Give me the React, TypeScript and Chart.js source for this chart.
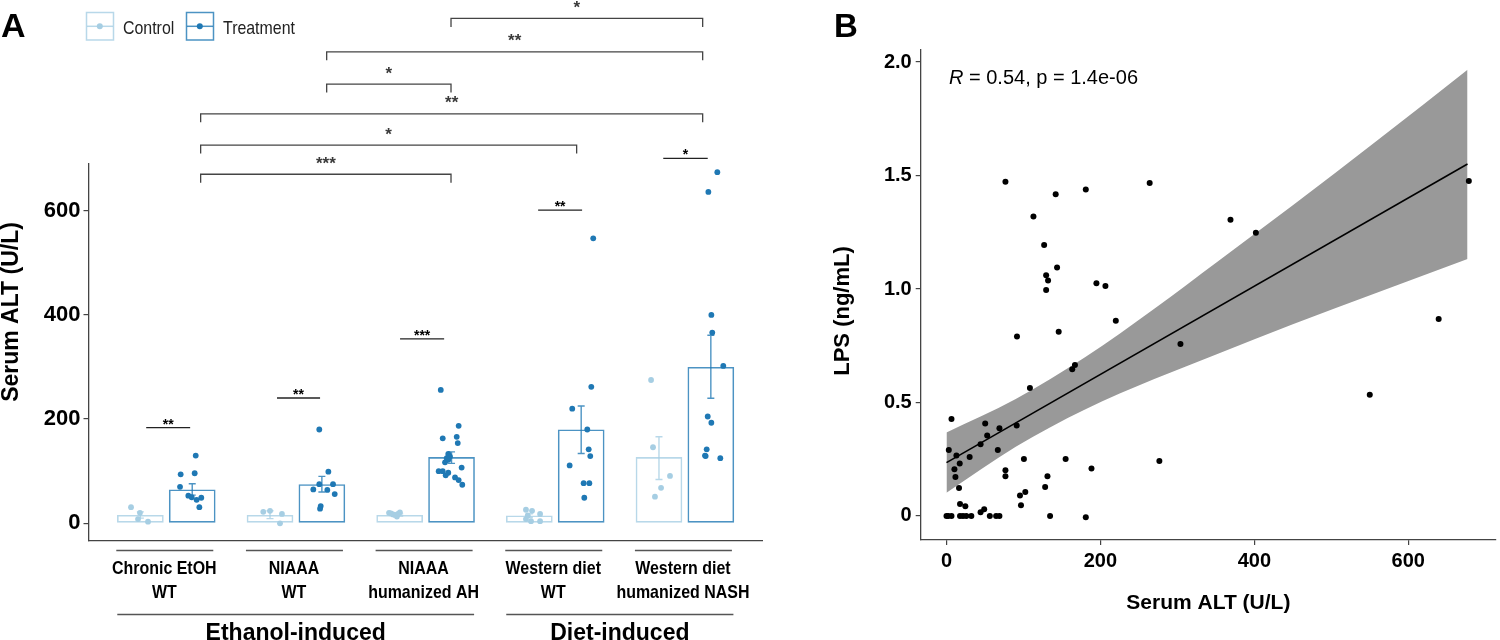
import React, { useEffect, useRef } from 'react';
import { Chart, registerables } from 'chart.js';

Chart.register(...registerables);

// ---------------- Panel A data ----------------
const categories: string[][] = [
  ['Chronic EtOH', 'WT'],
  ['NIAAA', 'WT'],
  ['NIAAA', 'humanized AH'],
  ['Western diet', 'WT'],
  ['Western diet', 'humanized NASH'],
];
const groupPositions = [1, 2, 3, 4, 5];
const inductionGroups = [
  { label: 'Ethanol-induced', from: 0, to: 2 },
  { label: 'Diet-induced', from: 3, to: 4 },
];
const controlMeans = [16, 16, 16, 15, 127];
const treatmentMeans = [65, 75, 127, 180, 300];
const controlErrLow = [10, 9, 14, 11, 84];
const controlErrHigh = [22, 24, 18, 18, 166];
const treatmentErrLow = [54, 60, 115, 134, 240];
const treatmentErrHigh = [76, 90, 137, 225, 361];

// individual animals: [jittered x (group units), Serum ALT]
const controlPoints: number[][] = [
  [0.728, 31], [0.797, 20], [0.782, 8], [0.859, 3],
  [1.748, 22], [1.8, 24], [1.892, 18], [1.877, 0],
  [2.718, 20], [2.749, 17], [2.779, 13], [2.802, 21], [2.764, 16], [2.733, 19], [2.787, 18],
  [3.774, 26], [3.821, 24], [3.883, 18], [3.788, 15], [3.774, 8], [3.813, 4], [3.883, 4],
  [4.739, 275], [4.754, 146], [4.885, 91], [4.816, 68], [4.769, 51],
];
const treatmentPoints: number[][] = [
  [1.227, 130], [1.111, 94], [1.219, 96], [1.106, 70], [1.17, 53], [1.196, 50], [1.234, 45], [1.27, 49], [1.255, 31],
  [2.18, 180], [2.25, 99], [2.18, 75], [2.286, 75], [2.134, 65], [2.242, 64], [2.299, 56], [2.191, 33], [2.186, 28],
  [3.117, 256], [3.255, 187], [3.132, 163], [3.24, 166], [3.248, 154], [3.175, 133], [3.188, 128], [3.163, 125],
  [3.15, 117], [3.175, 122], [3.278, 107], [3.101, 100], [3.132, 100], [3.175, 97], [3.155, 92], [3.227, 88],
  [3.255, 83], [3.283, 74],
  [4.293, 547], [4.278, 262], [4.131, 220], [4.247, 180], [4.258, 142], [4.27, 129], [4.111, 111], [4.219, 77],
  [4.263, 77], [4.224, 49],
  [5.25, 674], [5.181, 636], [5.204, 400], [5.211, 366], [5.296, 302], [5.176, 205], [5.204, 193], [5.168, 142],
  [5.155, 130], [5.16, 129], [5.273, 125],
];
const yTicksA = [0, 200, 400, 600];

// significance annotations
const bracketAnchors = [1.265, 2.237, 3.196, 4.165, 5.137];
const comparisons = [
  { from: 2, to: 4, y: 969, label: '*' },
  { from: 1, to: 4, y: 905, label: '**' },
  { from: 1, to: 2, y: 843, label: '*' },
  { from: 0, to: 4, y: 786, label: '**' },
  { from: 0, to: 3, y: 726, label: '*' },
  { from: 0, to: 2, y: 670, label: '***' },
];
const withinGroup = [
  { x1: 0.845, x2: 1.184, y: 183.5, label: '**' },
  { x1: 1.854, x2: 2.186, y: 240.5, label: '**' },
  { x1: 2.803, x2: 3.143, y: 354, label: '***' },
  { x1: 3.868, x2: 4.207, y: 601, label: '**' },
  { x1: 4.833, x2: 5.176, y: 700.6, label: '*' },
];

// ---------------- Panel B data ----------------
const serumAlt = [
  76.6, 141.9, 181, 264, 113, 126.9, 143.7, 129.5, 132, 129.5, 194.8, 206.5, 220, 91.6, 145.8, 304, 163.4, 166.9,
  108.4, 6.5, 50.3, 91.2, 68.8, 52.9, 44.3, 3, 66.7, 12.9, 30.1, 100.6, 154.8, 276.6, 17.2, 10.3, 76.6, 188.4,
  11.6, 76.6, 131.2, 128.2, 16.3, 102.4, 95.5, 96.8, 17.6, 24.5, 49, 44.3,
  0, 2.2, 6.5, 17.6, 21.5, 25.8, 32.3, 56.3, 64.5, 68.8, 134.6, 181,
  369, 402, 678.7, 639.5, 550,
];
const lps = [
  1.473, 1.417, 1.438, 1.467, 1.319, 1.194, 1.095, 1.06, 1.037, 0.996, 1.025, 1.013, 0.86, 0.791, 0.812, 0.758, 0.646, 0.665,
  0.564, 0.427, 0.407, 0.398, 0.386, 0.354, 0.316, 0.291, 0.291, 0.266, 0.26, 0.251, 0.251, 0.242, 0.231, 0.206, 0.201, 0.209,
  0.172, 0.175, 0.175, 0.128, 0.123, 0.106, 0.09, 0.047, 0.053, 0.043, 0.029, 0.016,
  0, 0, 0, 0, 0, 0, 0, 0, 0, 0, 0, -0.006,
  1.305, 1.248, 1.476, 0.868, 0.534,
];
const fitX = [0, 677];
const fitY = [0.235, 1.551];
const bandX = [0, 90, 180, 270, 352, 450, 560, 677];
const bandUpper = [0.368, 0.515, 0.699, 0.913, 1.12, 1.369, 1.655, 1.966];
const bandLower = [0.102, 0.305, 0.469, 0.603, 0.714, 0.845, 0.985, 1.132];
const xTicksB = [0, 200, 400, 600];
const yTicksB = [0, 0.5, 1, 1.5, 2];
const yTickLabelsB = ['0', '0.5', '1.0', '1.5', '2.0'];

// ---------------- styles ----------------
const FONT = '"Liberation Sans", Arial, Helvetica, sans-serif';
const CTRL_PT = '#a6cee3';
const CTRL_LINE = 'rgba(166,206,227,0.8)';
const TRT_PT = '#1f78b4';
const TRT_LINE = 'rgba(31,120,180,0.8)';
const AXIS = '#444';

function drawText(
  ctx: CanvasRenderingContext2D, s: string, x: number, y: number, font: string,
  align: CanvasTextAlign = 'center', sx = 1, color = '#000', baseline: CanvasTextBaseline = 'alphabetic', rot = 0,
) {
  ctx.save();
  ctx.font = font;
  ctx.fillStyle = color;
  ctx.textAlign = align;
  ctx.textBaseline = baseline;
  ctx.translate(x, y);
  if (rot) ctx.rotate(rot);
  ctx.scale(sx, 1);
  ctx.fillText(s, 0, 0);
  ctx.restore();
}

const panelAPlugin = {
  id: 'panelAExtras',
  afterDatasetDraw(chart: any, args: any) {
    if (args.index !== 0) return;
    const ctx: CanvasRenderingContext2D = chart.ctx;
    const ys = chart.scales.y;
    const sets = [
      { meta: chart.getDatasetMeta(0), lo: controlErrLow, hi: controlErrHigh, color: CTRL_LINE },
      { meta: chart.getDatasetMeta(1), lo: treatmentErrLow, hi: treatmentErrHigh, color: TRT_LINE },
    ];
    ctx.save();
    for (const s of sets) {
      ctx.strokeStyle = s.color;
      ctx.lineWidth = 1.4;
      s.meta.data.forEach((bar: any, i: number) => {
        const x = bar.x;
        const y1 = ys.getPixelForValue(s.lo[i]);
        const y2 = ys.getPixelForValue(s.hi[i]);
        ctx.beginPath();
        ctx.moveTo(x, y1); ctx.lineTo(x, y2);
        ctx.moveTo(x - 3.5, y1); ctx.lineTo(x + 3.5, y1);
        ctx.moveTo(x - 3.5, y2); ctx.lineTo(x + 3.5, y2);
        ctx.stroke();
      });
    }
    ctx.restore();
  },
  afterDraw(chart: any) {
    const ctx: CanvasRenderingContext2D = chart.ctx;
    const xs = chart.scales.x;
    const ys = chart.scales.y;
    ctx.save();
    // panel letter
    drawText(ctx, 'A', 1, 37, `bold 34px ${FONT}`, 'left');
    // legend
    const legendItems = [
      { label: chart.data.datasets[0].label, x: 86, line: CTRL_LINE, pt: CTRL_PT },
      { label: chart.data.datasets[1].label, x: 186, line: TRT_LINE, pt: TRT_PT },
    ];
    for (const it of legendItems) {
      ctx.strokeStyle = it.line;
      ctx.lineWidth = 1.5;
      ctx.strokeRect(it.x + 0.5, 12.5, 27, 27.5);
      ctx.beginPath();
      ctx.moveTo(it.x + 1, 26.3); ctx.lineTo(it.x + 27, 26.3);
      ctx.stroke();
      ctx.fillStyle = it.pt;
      ctx.beginPath();
      ctx.arc(it.x + 13.8, 26.3, 3, 0, Math.PI * 2);
      ctx.fill();
      drawText(ctx, it.label, it.x + 37, 33.5, `18.5px ${FONT}`, 'left', 0.86, '#222');
    }
    // brackets between groups
    ctx.strokeStyle = '#444';
    ctx.lineWidth = 1.3;
    for (const b of comparisons) {
      const x1 = xs.getPixelForValue(bracketAnchors[b.from]);
      const x2 = xs.getPixelForValue(bracketAnchors[b.to]);
      const y = ys.getPixelForValue(b.y);
      ctx.beginPath();
      ctx.moveTo(x1, y + 8.5); ctx.lineTo(x1, y); ctx.lineTo(x2, y); ctx.lineTo(x2, y + 8.5);
      ctx.stroke();
      drawText(ctx, b.label, (x1 + x2) / 2, y - 5.5, `bold 17px ${FONT}`, 'center', 1, '#3a3a3a');
    }
    // within-group significance
    ctx.strokeStyle = '#222';
    for (const s of withinGroup) {
      const x1 = xs.getPixelForValue(s.x1);
      const x2 = xs.getPixelForValue(s.x2);
      const y = ys.getPixelForValue(s.y);
      ctx.beginPath();
      ctx.moveTo(x1, y); ctx.lineTo(x2, y);
      ctx.stroke();
      drawText(ctx, s.label, (x1 + x2) / 2, y + 1, `bold 14px ${FONT}`, 'center', 1, '#000');
    }
    // y title
    drawText(ctx, 'Serum ALT (U/L)', 12, 312, `bold 23px ${FONT}`, 'center', 1, '#000', 'middle', -Math.PI / 2);
    // category labels
    ctx.strokeStyle = '#555';
    ctx.lineWidth = 1.4;
    categories.forEach((lines, i) => {
      const cx = xs.getPixelForValue(groupPositions[i]);
      ctx.beginPath();
      ctx.moveTo(cx - 50, 550.5); ctx.lineTo(cx + 47, 550.5);
      ctx.stroke();
      drawText(ctx, lines[0], cx - 2, 574.3, `bold 19px ${FONT}`, 'center', 0.84);
      drawText(ctx, lines[1], cx - 2, 598.3, `bold 19px ${FONT}`, 'center', 0.84);
    });
    for (const g of inductionGroups) {
      const a = xs.getPixelForValue(groupPositions[g.from]) - 49;
      const b = xs.getPixelForValue(groupPositions[g.to]) + 48.5;
      ctx.beginPath();
      ctx.moveTo(a, 614.5); ctx.lineTo(b, 614.5);
      ctx.stroke();
      drawText(ctx, g.label, (a + b) / 2, 640, `bold 23px ${FONT}`, 'center');
    }
    ctx.restore();
  },
};

const panelBPlugin = {
  id: 'panelBExtras',
  afterDraw(chart: any) {
    const ctx: CanvasRenderingContext2D = chart.ctx;
    const area = chart.chartArea;
    drawText(ctx, 'B', 34, 37, `bold 33px ${FONT}`, 'left');
    // correlation annotation
    ctx.save();
    ctx.font = `italic 20px ${FONT}`;
    const rw = ctx.measureText('R').width;
    ctx.restore();
    drawText(ctx, 'R', 149, 84, `italic 20px ${FONT}`, 'left', 1, '#000');
    drawText(ctx, ' = 0.54, p = 1.4e-06', 149 + rw, 84, `20px ${FONT}`, 'left', 1, '#000');
    // axis titles
    drawText(ctx, 'LPS (ng/mL)', 43, 311, `bold 22px ${FONT}`, 'center', 1, '#000', 'middle', -Math.PI / 2);
    drawText(ctx, 'Serum ALT (U/L)', (area.left + area.right) / 2, 608.5, `bold 21px ${FONT}`, 'center');
  },
};

function PanelA() {
  const ref = useRef<HTMLCanvasElement>(null);
  useEffect(() => {
    const chart = new Chart(ref.current as HTMLCanvasElement, {
      type: 'bar',
      data: {
        datasets: [
          {
            type: 'bar', label: 'Control',
            data: groupPositions.map((x, i) => ({ x, y: controlMeans[i] })),
            backgroundColor: 'rgba(255,255,255,0)', borderColor: CTRL_LINE, borderWidth: 1.6,
            borderSkipped: false, barPercentage: 0.9, categoryPercentage: 0.8, order: 4,
          },
          {
            type: 'bar', label: 'Treatment',
            data: groupPositions.map((x, i) => ({ x, y: treatmentMeans[i] })),
            backgroundColor: 'rgba(255,255,255,0)', borderColor: TRT_LINE, borderWidth: 1.6,
            borderSkipped: false, barPercentage: 0.9, categoryPercentage: 0.8, order: 5,
          },
          {
            type: 'scatter', label: 'Control points',
            data: controlPoints.map(([x, y]) => ({ x, y })),
            pointRadius: 2.9, pointBackgroundColor: CTRL_PT, pointBorderWidth: 0, order: 3,
          },
          {
            type: 'scatter', label: 'Treatment points',
            data: treatmentPoints.map(([x, y]) => ({ x, y })),
            pointRadius: 2.9, pointBackgroundColor: TRT_PT, pointBorderWidth: 0, order: 2,
          },
        ] as any,
      },
      options: {
        responsive: false,
        animation: false,
        events: [],
        layout: { padding: { left: 0, right: 37.3, top: 163.3, bottom: 0 } },
        plugins: { legend: { display: false }, tooltip: { enabled: false } },
        scales: {
          x: {
            type: 'linear', min: 0.4, max: 5.6, offset: false,
            afterBuildTicks: (s: any) => { s.ticks = groupPositions.map((v) => ({ value: v })); },
            ticks: { display: false },
            grid: { display: false, drawTicks: false },
            border: { display: true, color: AXIS, width: 1.3 },
            afterFit: (s: any) => { s.height = 99; },
          },
          y: {
            type: 'linear', min: -34, max: 691,
            afterBuildTicks: (s: any) => { s.ticks = yTicksA.map((v) => ({ value: v })); },
            ticks: {
              color: '#000', padding: 3,
              font: { family: FONT, size: 22, weight: 'bold' },
              callback: (v: any) => String(v),
            },
            grid: { drawOnChartArea: false, drawTicks: true, tickLength: 5, color: AXIS, lineWidth: 1.2 },
            border: { display: true, color: AXIS, width: 1.3 },
            afterFit: (s: any) => { s.width = 88.5; },
          },
        },
      } as any,
      plugins: [panelAPlugin as any],
    });
    return () => chart.destroy();
  }, []);
  return <canvas ref={ref} width={800} height={640} style={{ position: 'absolute', left: 0, top: 0, display: 'block' }} />;
}

function PanelB() {
  const ref = useRef<HTMLCanvasElement>(null);
  useEffect(() => {
    const chart = new Chart(ref.current as HTMLCanvasElement, {
      type: 'scatter',
      data: {
        datasets: [
          {
            type: 'line', label: 'CI upper',
            data: bandX.map((x, i) => ({ x, y: bandUpper[i] })),
            borderColor: 'rgba(0,0,0,0)', borderWidth: 0, pointRadius: 0, fill: false,
            cubicInterpolationMode: 'monotone', order: 4,
          },
          {
            type: 'line', label: 'CI lower',
            data: bandX.map((x, i) => ({ x, y: bandLower[i] })),
            borderColor: 'rgba(0,0,0,0)', borderWidth: 0, pointRadius: 0, fill: '-1',
            backgroundColor: '#999999', cubicInterpolationMode: 'monotone', order: 3,
          },
          {
            type: 'line', label: 'Fit',
            data: fitX.map((x, i) => ({ x, y: fitY[i] })),
            borderColor: '#000', borderWidth: 1.6, pointRadius: 0, fill: false, tension: 0, order: 2,
          },
          {
            type: 'scatter', label: 'Samples',
            data: serumAlt.map((x, i) => ({ x, y: lps[i] })),
            pointRadius: 3, pointBackgroundColor: '#000', pointBorderWidth: 0, order: 1,
          },
        ] as any,
      },
      options: {
        responsive: false,
        animation: false,
        events: [],
        layout: { padding: { left: 0, right: 0, top: 50, bottom: 0 } },
        plugins: { legend: { display: false }, tooltip: { enabled: false } },
        scales: {
          x: {
            type: 'linear', min: -33.5, max: 714,
            afterBuildTicks: (s: any) => { s.ticks = xTicksB.map((v) => ({ value: v })); },
            ticks: {
              color: '#000', padding: 4, maxRotation: 0,
              font: { family: FONT, size: 20, weight: 'bold' },
              callback: (v: any) => String(v),
            },
            grid: { drawOnChartArea: false, drawTicks: true, tickLength: 5, color: AXIS, lineWidth: 1.2 },
            border: { display: true, color: AXIS, width: 1.3 },
            afterFit: (s: any) => { s.height = 100; },
          },
          y: {
            type: 'linear', min: -0.106, max: 2.053,
            afterBuildTicks: (s: any) => { s.ticks = yTicksB.map((v) => ({ value: v })); },
            ticks: {
              color: '#000', padding: 4,
              font: { family: FONT, size: 20, weight: 'bold' },
              callback: (v: any) => {
                const k = yTicksB.indexOf(v);
                return k >= 0 ? yTickLabelsB[k] : '';
              },
            },
            grid: { drawOnChartArea: false, drawTicks: true, tickLength: 5, color: AXIS, lineWidth: 1.2 },
            border: { display: true, color: AXIS, width: 1.3 },
            afterFit: (s: any) => { s.width = 120.7; },
          },
        },
      } as any,
      plugins: [panelBPlugin as any],
    });
    return () => chart.destroy();
  }, []);
  return <canvas ref={ref} width={700} height={640} style={{ position: 'absolute', left: 800, top: 0, display: 'block' }} />;
}

export default function App() {
  return (
    <div style={{ position: 'absolute', left: 0, top: 0, width: 1500, height: 640, overflow: 'hidden', background: '#fff' }}>
      <PanelA />
      <PanelB />
    </div>
  );
}
